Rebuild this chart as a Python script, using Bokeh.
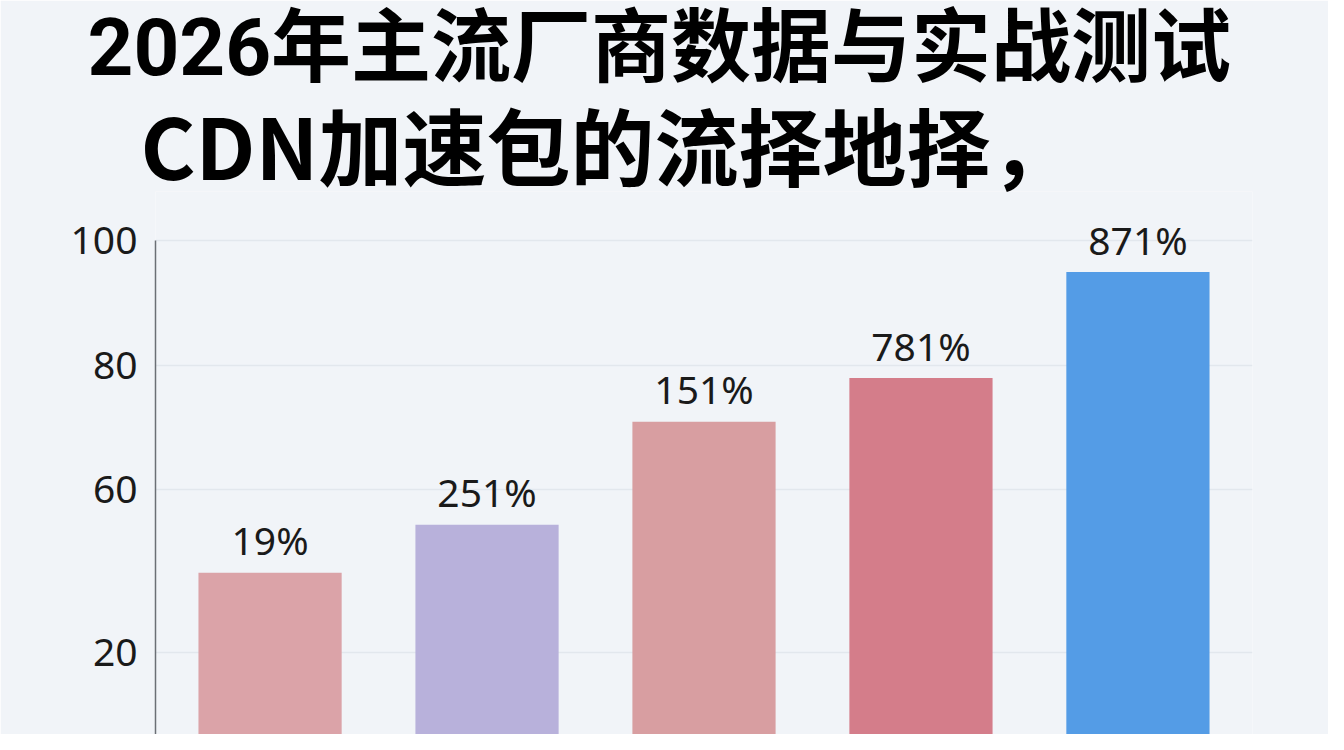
from bokeh.plotting import figure
from bokeh.models import ColumnDataSource, FactorRange, Range1d, FixedTicker, Title
from bokeh.core.properties import value
from bokeh.embed import file_html
from bokeh.resources import INLINE

# ---- data ----
title_line1 = "2026年主流厂商数据与实战测试"
title_line2 = "CDN加速包的流择地择，"
categories = ["厂商A", "厂商B", "厂商C", "厂商D", "厂商E"]
bar_values = [46.7, 54.4, 70.9, 77.9, 94.9]
bar_labels = ["19%", "251%", "151%", "781%", "871%"]
bar_colors = ["#dba3a8", "#b8b1db", "#d89ea1", "#d47d8a", "#549ce6"]
tick_values = [34, 60, 80, 100]
tick_labels = ["20", "60", "80", "100"]

BG = "#f1f4f8"
src = ColumnDataSource(dict(cat=categories, val=bar_values, lab=bar_labels, col=bar_colors))

p = figure(
    width=1328, height=734,
    x_range=FactorRange(factors=categories, range_padding=0.028, range_padding_units="absolute"),
    y_range=Range1d(20.8, 107.8),
    x_axis_location=None,
    output_backend="svg", toolbar_location=None, tools="",
    min_border_left=155, min_border_right=76, min_border_bottom=0, min_border_top=0,
    background_fill_color=BG, border_fill_color=BG, outline_line_color=None,
)

# titles (line 2 added first: later 'above' items sit further from the plot)
p.add_layout(Title(text=title_line2, align="left", offset=-15, vertical_align="top",
                   text_font="Noto Sans CJK SC", text_font_style="bold",
                   text_font_size="84px", text_color="#000000", standoff=-28), "above")
p.add_layout(Title(text=title_line1, align="left", offset=-68, vertical_align="top",
                   text_font="Roboto, 'Noto Sans CJK SC'", text_font_style="bold",
                   text_font_size="80px", text_color="#000000", standoff=0), "above")

p.vbar(x="cat", top="val", bottom=0, width=0.66, source=src,
       fill_color="col", line_color=None)

p.text(x="cat", y="val", text="lab", source=src,
       text_font=value("Noto Sans"), text_font_size="39px", text_color="#1a1a1a",
       text_align="center", text_baseline="alphabetic", y_offset=-33)

ax = p.yaxis[0]
ax.ticker = FixedTicker(ticks=tick_values)
ax.major_label_overrides = {v: l for v, l in zip(tick_values, tick_labels)}
ax.major_label_text_font = "Noto Sans"
ax.major_label_text_font_size = "39px"
ax.major_label_text_color = "#1a1a1a"
ax.major_label_standoff = 18
ax.major_tick_in = 0
ax.major_tick_out = 0
ax.minor_tick_in = 0
ax.minor_tick_out = 0
ax.axis_line_color = "#6b6f75"
ax.axis_line_width = 1.5
ax.bounds = (0, 100)

p.xgrid.grid_line_color = None
p.ygrid.grid_line_color = "#e2e7ed"
p.ygrid.grid_line_width = 1.5

open("out.html", "w").write(file_html(p, INLINE))
